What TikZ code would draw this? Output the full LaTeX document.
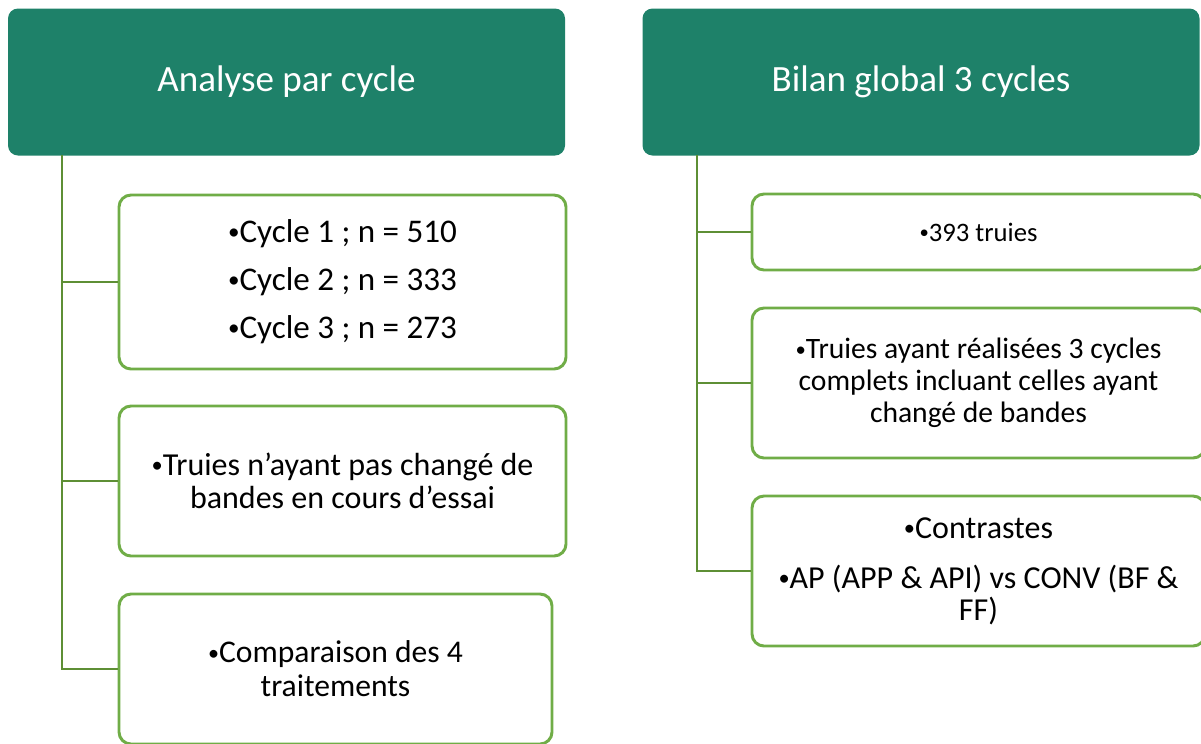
\documentclass[tikz,border=0pt]{standalone}
\usepackage{fontspec}
\usepackage{graphicx}
\setmainfont{Carlito}
\usetikzlibrary{positioning}
\definecolor{headgreen}{HTML}{1E8169}
\definecolor{boxgreen}{HTML}{70AD47}
\definecolor{linegreen}{HTML}{5E8F35}
\newcommand{\bul}{\raisebox{0.09em}{\scalebox{0.7}{•}}}

\begin{document}
\begin{tikzpicture}[
  x=0.75pt, y=-0.75pt,
  header/.style={rectangle, rounded corners=7.5pt, fill=headgreen, text=white, minimum width=417.75pt, minimum height=110.25pt, font=\fontsize{27.8}{32}\selectfont},
  itembox/.style={rectangle, rounded corners=9pt, draw=boxgreen, line width=2.2pt, fill=white, align=center, minimum width=335.25pt},
  branch/.style={draw=linegreen, line width=2.2pt}
]
\useasboundingbox (0,0) rectangle (1201,743);

% Analyse par cycle
\node[header] (hL) at (286.5,82) {Analyse par cycle};
\coordinate (trunkL) at (62,155);
\node[itembox, minimum height=130.5pt, font=\fontsize{24.8}{36}\selectfont] (bL1) at (342.5,282) {\bul Cycle 1 ; n = 510\\\bul Cycle 2 ; n = 333\\\bul Cycle 3 ; n = 273};
\node[itembox, minimum height=112.5pt, font=\fontsize{24}{24.75}\selectfont] (bL2) at (342.5,481) {\bul Truies n’ayant pas changé de\\bandes en cours d’essai};
\node[itembox, minimum width=324.75pt, minimum height=112.5pt, font=\fontsize{23.7}{25.5}\selectfont] (bL3) at (335.5,669) {\bul Comparaison des 4\\traitements};

\draw[branch] (trunkL) |- (bL3.west);
\draw[branch] (trunkL) |- (bL1.west);
\draw[branch] (trunkL) |- (bL2.west);

% Bilan global 3 cycles
\node[header] (hR) at (921,82) {Bilan global 3 cycles};
\coordinate (trunkR) at (697,155);
\node[itembox, minimum width=339.75pt, minimum height=57pt, font=\fontsize{20}{24}\selectfont] (bR1) at (978.5,232) {\bul 393 truies};
\node[itembox, minimum width=339.75pt, minimum height=112.5pt, font=\fontsize{22.2}{24}\selectfont] (bR2) at (978.5,383) {\bul Truies ayant réalisées 3 cycles\\complets incluant celles ayant\\changé de bandes};
\node[itembox, minimum width=339.75pt, minimum height=112.5pt, font=\fontsize{24}{24}\selectfont] (bR3) at (978.5,571) {\bul Contrastes\\[13.5pt]\bul AP (APP \& API) vs CONV (BF \&\\FF)};

\draw[branch] (trunkR) |- (bR3.west);
\draw[branch] (trunkR) |- (bR1.west);
\draw[branch] (trunkR) |- (bR2.west);
\end{tikzpicture}
\end{document}
